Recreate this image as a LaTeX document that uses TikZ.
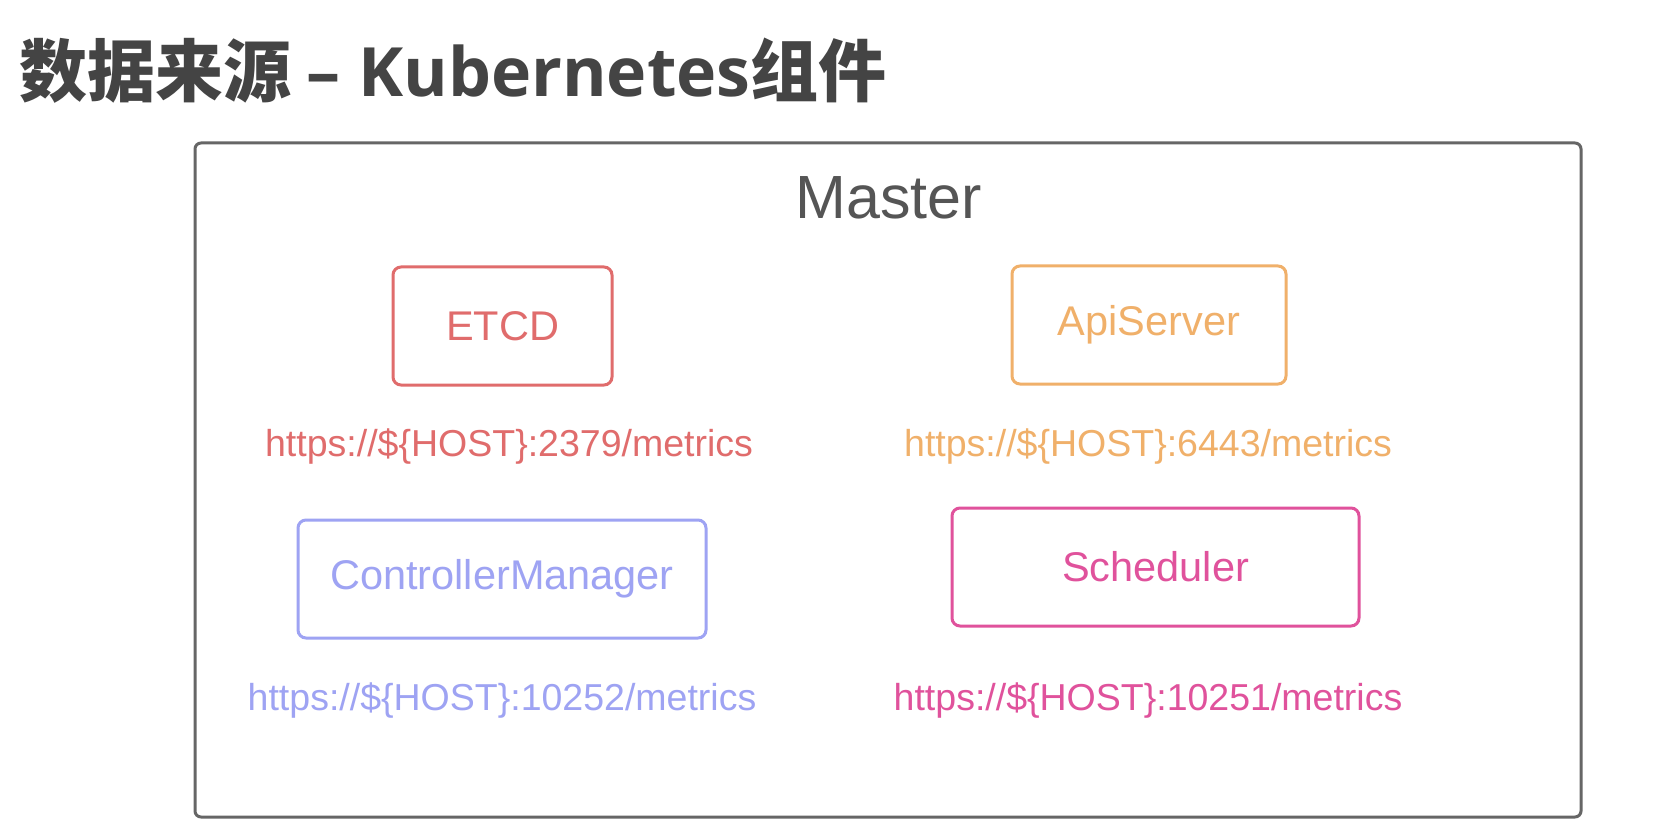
\documentclass[tikz,border=0pt]{standalone}
\usepackage{fontspec}
\setmainfont{Liberation Sans}
\newfontfamily\cjk{Noto Sans CJK SC}
\newfontfamily\latinbold{Open Sans}
\definecolor{titlegray}{HTML}{444444}
\definecolor{framegray}{HTML}{666666}
\definecolor{mastergray}{HTML}{555555}
\definecolor{etcdred}{HTML}{E06C6C}
\definecolor{apiorange}{HTML}{F0B06A}
\definecolor{ctrlblue}{HTML}{9EA3F3}
\definecolor{schedpink}{HTML}{E0529C}
\tikzset{
  compbox/.style={draw=#1, text=#1, line width=3pt, rounded corners=8pt,
    inner sep=0pt, font=\fontsize{41.5}{48}\selectfont},
  urltext/.style={text=#1, anchor=base, inner sep=0pt,
    font=\fontsize{37.5}{44}\selectfont},
}
\begin{document}
\begin{tikzpicture}[x=1pt,y=-1pt]
\useasboundingbox (0,0) rectangle (1678,834);
\fill[white] (0,0) rectangle (1678,834);
% title
\node[anchor=west, inner sep=0pt, text=titlegray] (title) at (19,71)
  {\fontsize{68}{76}\selectfont\cjk\bfseries 数据来源 \latinbold\bfseries – Kubernetes\cjk\bfseries 组件};
% master frame
\draw[framegray, line width=3pt, rounded corners=6pt] (195,143) rectangle (1581,817);
\node[anchor=base, inner sep=0pt, text=mastergray, font=\fontsize{61}{70}\selectfont] (master) at (888.5,219) {Master};
% components
\node[compbox=etcdred, minimum width=219pt, minimum height=118pt] (etcd) at (502.5,326) {ETCD};
\node[compbox=apiorange, minimum width=274pt, minimum height=118pt] (api) at (1149,325) {ApiServer};
\node[compbox=ctrlblue, minimum width=408pt, minimum height=118pt] (ctrl) at (502,579) {ControllerManager};
\node[compbox=schedpink, minimum width=407pt, minimum height=118pt] (sched) at (1155.5,567) {Scheduler};
% urls
\node[urltext=etcdred] (etcdurl) at (509,456) {https://\$\{HOST\}:2379/metrics};
\node[urltext=apiorange] (apiurl) at (1148,456) {https://\$\{HOST\}:6443/metrics};
\node[urltext=ctrlblue] (ctrlurl) at (502,710) {https://\$\{HOST\}:10252/metrics};
\node[urltext=schedpink] (schedurl) at (1148,710) {https://\$\{HOST\}:10251/metrics};
\end{tikzpicture}
\end{document}
